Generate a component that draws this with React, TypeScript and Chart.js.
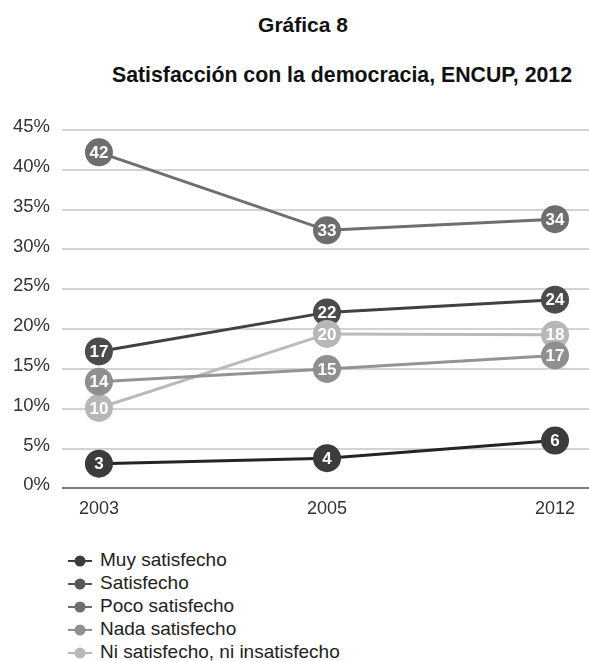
import React, { useEffect, useRef } from "react";
import { Chart, registerables } from "chart.js";

Chart.register(...registerables);

const years = ["2003", "2005", "2012"];
const seriesNames = [
  "Muy satisfecho",
  "Satisfecho",
  "Poco satisfecho",
  "Nada satisfecho",
  "Ni satisfecho, ni insatisfecho",
];
const muy = [3.1, 3.8, 6.0];
const satisfecho = [17.2, 22.1, 23.7];
const poco = [42.2, 32.4, 33.8];
const nada = [13.4, 15.0, 16.7];
const ni = [10.1, 19.4, 19.3];
const muyLabels = ["3", "4", "6"];
const satisfechoLabels = ["17", "22", "24"];
const pocoLabels = ["42", "33", "34"];
const nadaLabels = ["14", "15", "17"];
const niLabels = ["10", "20", "18"];
const yTicks = [0, 5, 10, 15, 20, 25, 30, 35, 40, 45];

const lineColors = ["#262324", "#414143", "#6d6e70", "#939396", "#b9babc"];
const pointColors = ["#3b3b3d", "#4b4b4d", "#6d6e70", "#8f8f92", "#b6b7b9"];
const legendColors = ["#3c3c3c", "#575757", "#6e6e6e", "#8f8f8f", "#b8b8b8"];
const drawOrder = [4, 2, 3, 0, 1];

const FONT = '"Liberation Sans", Arial, sans-serif';
const CANVAS_W = 589;
const CANVAS_H = 430;

const labelPlugin = {
  id: "pointLabels",
  afterDatasetDraw(chart: any, args: any) {
    const ds = chart.data.datasets[args.index] as any;
    const labels: string[] = ds.pointLabels || [];
    const ctx = chart.ctx;
    ctx.save();
    ctx.fillStyle = "#ffffff";
    ctx.font = 'bold 17px "Liberation Sans Narrow", "Liberation Sans", Arial, sans-serif';
    ctx.textAlign = "center";
    ctx.textBaseline = "middle";
    args.meta.data.forEach((el: any, i: number) => {
      ctx.fillText(labels[i], el.x, el.y + 1);
    });
    ctx.restore();
  },
};

export default function App() {
  const ref = useRef<HTMLCanvasElement | null>(null);

  useEffect(() => {
    if (!ref.current) return;
    const values = [muy, satisfecho, poco, nada, ni];
    const labelSets = [muyLabels, satisfechoLabels, pocoLabels, nadaLabels, niLabels];
    const chart = new Chart(ref.current, {
      type: "line",
      data: {
        datasets: values.map((v, k) => ({
          label: seriesNames[k],
          data: v.map((y, i) => ({ x: i, y })),
          borderColor: lineColors[k],
          backgroundColor: pointColors[k],
          pointBackgroundColor: pointColors[k],
          pointBorderWidth: 0,
          pointRadius: 14,
          pointHoverRadius: 14,
          borderWidth: 3,
          tension: 0,
          fill: false,
          clip: false,
          order: drawOrder[k],
          pointLabels: labelSets[k],
        })) as any,
      },
      options: {
        animation: false,
        responsive: false,
        devicePixelRatio: 1,
        layout: { autoPadding: false, padding: { top: 30, right: 0, bottom: 0, left: 0 } },
        plugins: {
          legend: { display: false },
          title: { display: false },
          tooltip: { enabled: false },
        },
        scales: {
          x: {
            type: "linear",
            min: -0.162,
            max: 2.149,
            afterBuildTicks: (scale: any) => {
              scale.ticks = years.map((_, i) => ({ value: i }));
            },
            grid: { display: false, drawTicks: false },
            border: { display: false },
            ticks: {
              padding: 10,
              color: "#333333",
              font: { family: FONT, size: 18 },
              callback: (v: any) => years[v as number] ?? "",
            },
          },
          y: {
            min: 0,
            max: 45,
            afterBuildTicks: (scale: any) => {
              scale.ticks = yTicks.map((value) => ({ value }));
            },
            afterFit: (scale: any) => {
              scale.width = 62;
            },
            grid: {
              drawTicks: false,
              color: (c: any) => (c.tick && c.tick.value === 0 ? "#7b7d7d" : "#d2d4d4"),
              lineWidth: 2,
            },
            border: { display: false },
            ticks: {
              padding: 12,
              labelOffset: -3,
              color: "#333333",
              font: { family: FONT, size: 18.5 },
              callback: (v: any) => `${v}%`,
            },
          },
        },
      },
      plugins: [labelPlugin],
    });
    return () => chart.destroy();
  }, []);

  const legendTop = [566, 589, 612, 635, 658];

  return (
    <div
      style={{
        position: "fixed",
        left: 0,
        top: 0,
        width: 589,
        height: 661,
        background: "#ffffff",
        fontFamily: FONT,
        color: "#222",
        overflow: "hidden",
      }}
    >
      <div
        style={{
          position: "absolute",
          left: 303,
          top: 14,
          transform: "translateX(-50%)",
          whiteSpace: "nowrap",
          fontWeight: "bold",
          fontSize: 21,
          lineHeight: "21px",
          color: "#111",
        }}
      >
        Gráfica 8
      </div>
      <div
        style={{
          position: "absolute",
          left: 342,
          top: 65,
          transform: "translateX(-50%)",
          whiteSpace: "nowrap",
          fontWeight: "bold",
          fontSize: 21.3,
          lineHeight: "21px",
          color: "#111",
        }}
      >
        Satisfacción con la democracia, ENCUP, 2012
      </div>
      <canvas
        ref={ref}
        width={CANVAS_W}
        height={CANVAS_H}
        style={{ position: "absolute", left: 0, top: 100, width: CANVAS_W, height: CANVAS_H }}
      />
      {seriesNames.map((name, k) => (
        <div
          key={name}
          style={{
            position: "absolute",
            left: 66,
            top: legendTop[k] - 15,
            height: 18,
            display: "flex",
            alignItems: "center",
            whiteSpace: "nowrap",
          }}
        >
          <svg width={30} height={18} style={{ display: "block" }}>
            <line x1={2} y1={10} x2={26} y2={10} stroke={legendColors[k]} strokeWidth={2} />
            <circle cx={14} cy={10} r={5.5} fill={legendColors[k]} />
          </svg>
          <span style={{ marginLeft: 4, fontSize: 19, lineHeight: "18px", color: "#222" }}>{name}</span>
        </div>
      ))}
    </div>
  );
}
